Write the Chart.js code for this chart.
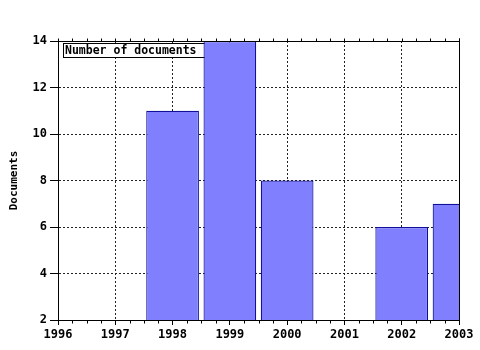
<!DOCTYPE html>
<html>
<head>
<meta charset="utf-8">
<script src="https://cdn.jsdelivr.net/npm/chart.js@4.4.1/dist/chart.umd.min.js"></script>
<style>
  html, body { margin: 0; padding: 0; background: #fff; }
  #wrap { width: 480px; height: 350px; }
</style>
</head>
<body>
<div id="wrap"><canvas id="grafico" width="480" height="350"></canvas></div>
<script>
'use strict';

// dati
const years = [1998, 1999, 2000, 2002, 2003];
const documents = [11, 14, 8, 6, 7];
const seriesLabel = 'Number of documents';
const axisTitle = 'Documents';
const xMin = 1996, xMax = 2003;
const yMin = 2, yMax = 14, yStep = 2;

const MONO = "'DejaVu Sans Mono', monospace";

// cornice, tacche minori e legenda
const framePlugin = {
  id: 'frame',
  beforeDatasetsDraw(chart) {
    const ctx = chart.ctx;
    const a = chart.chartArea;
    const label = chart.data.datasets[0].label;
    ctx.save();
    ctx.font = 'bold 11.5px ' + MONO;
    const w = Math.round(ctx.measureText(label).width) + 10;
    ctx.fillStyle = '#fff';
    ctx.fillRect(a.left + 5.5, a.top + 2.5, w, 14);
    ctx.strokeStyle = '#000';
    ctx.lineWidth = 1;
    ctx.strokeRect(a.left + 5.5, a.top + 2.5, w, 14);
    ctx.fillStyle = '#000';
    ctx.textBaseline = 'middle';
    ctx.fillText(label, a.left + 7, a.top + 10);
    ctx.restore();
  },
  afterDatasetsDraw(chart) {
    const ctx = chart.ctx;
    const a = chart.chartArea;
    const xs = chart.scales.x;
    ctx.save();
    ctx.strokeStyle = '#000';
    ctx.lineWidth = 1;
    ctx.beginPath();
    const top = Math.round(a.top) + 0.5;
    const bottom = Math.round(a.bottom) + 0.5;
    ctx.moveTo(Math.round(a.left) + 0.5, top);
    ctx.lineTo(Math.round(a.right) + 0.5, top);
    ctx.moveTo(Math.round(a.right) + 0.5, top - 3);
    ctx.lineTo(Math.round(a.right) + 0.5, bottom);
    for (let v = xMin; v <= xMax + 0.001; v += 0.25) {
      const px = Math.round(xs.getPixelForValue(v)) + 0.5;
      ctx.moveTo(px, top);
      ctx.lineTo(px, top - 3);
      if (Math.abs(v - Math.round(v)) > 0.01) {
        ctx.moveTo(px, bottom);
        ctx.lineTo(px, bottom + 3);
      }
    }
    ctx.stroke();
    ctx.restore();
  }
};

const ctx = document.getElementById('grafico').getContext('2d');

const chart = new Chart(ctx, {
  type: 'bar',
  data: {
    datasets: [{
      label: seriesLabel,
      data: years.map((y, i) => ({ x: y, y: documents[i] })),
      backgroundColor: '#8080ff',
      borderColor: '#10109a',
      borderWidth: 1.2,
      categoryPercentage: 1,
      barPercentage: 0.92,
      clip: 0
    }]
  },
  options: {
    responsive: false,
    animation: false,
    layout: { padding: { top: 41, right: 21, left: 0, bottom: 0 } },
    plugins: {
      legend: { display: false },
      tooltip: { enabled: false }
    },
    scales: {
      x: {
        type: 'linear',
        min: xMin, max: xMax,
        offset: false,
        afterFit: s => { s.height = 30; },
        ticks: {
          stepSize: 1, color: '#000', padding: 3, maxRotation: 0,
          font: { family: MONO, size: 12, weight: 'bold' },
          callback: v => String(v)
        },
        grid: { offset: false, color: '#222', tickColor: '#000', tickLength: 5 },
        border: { display: true, color: '#000', width: 1, dash: [2, 2] }
      },
      y: {
        min: yMin, max: yMax,
        afterFit: s => { s.width = 58; },
        ticks: {
          stepSize: yStep, color: '#000', padding: 3,
          font: { family: MONO, size: 12, weight: 'bold' }
        },
        grid: { color: '#222', tickColor: '#000', tickLength: 8 },
        border: { display: true, color: '#000', width: 1, dash: [2, 2] },
        title: {
          display: true, text: axisTitle, color: '#000',
          font: { family: MONO, size: 11, weight: 'bold' },
          padding: { top: 8, bottom: 0 }
        }
      }
    }
  },
  plugins: [framePlugin]
});
</script>
</body>
</html>
